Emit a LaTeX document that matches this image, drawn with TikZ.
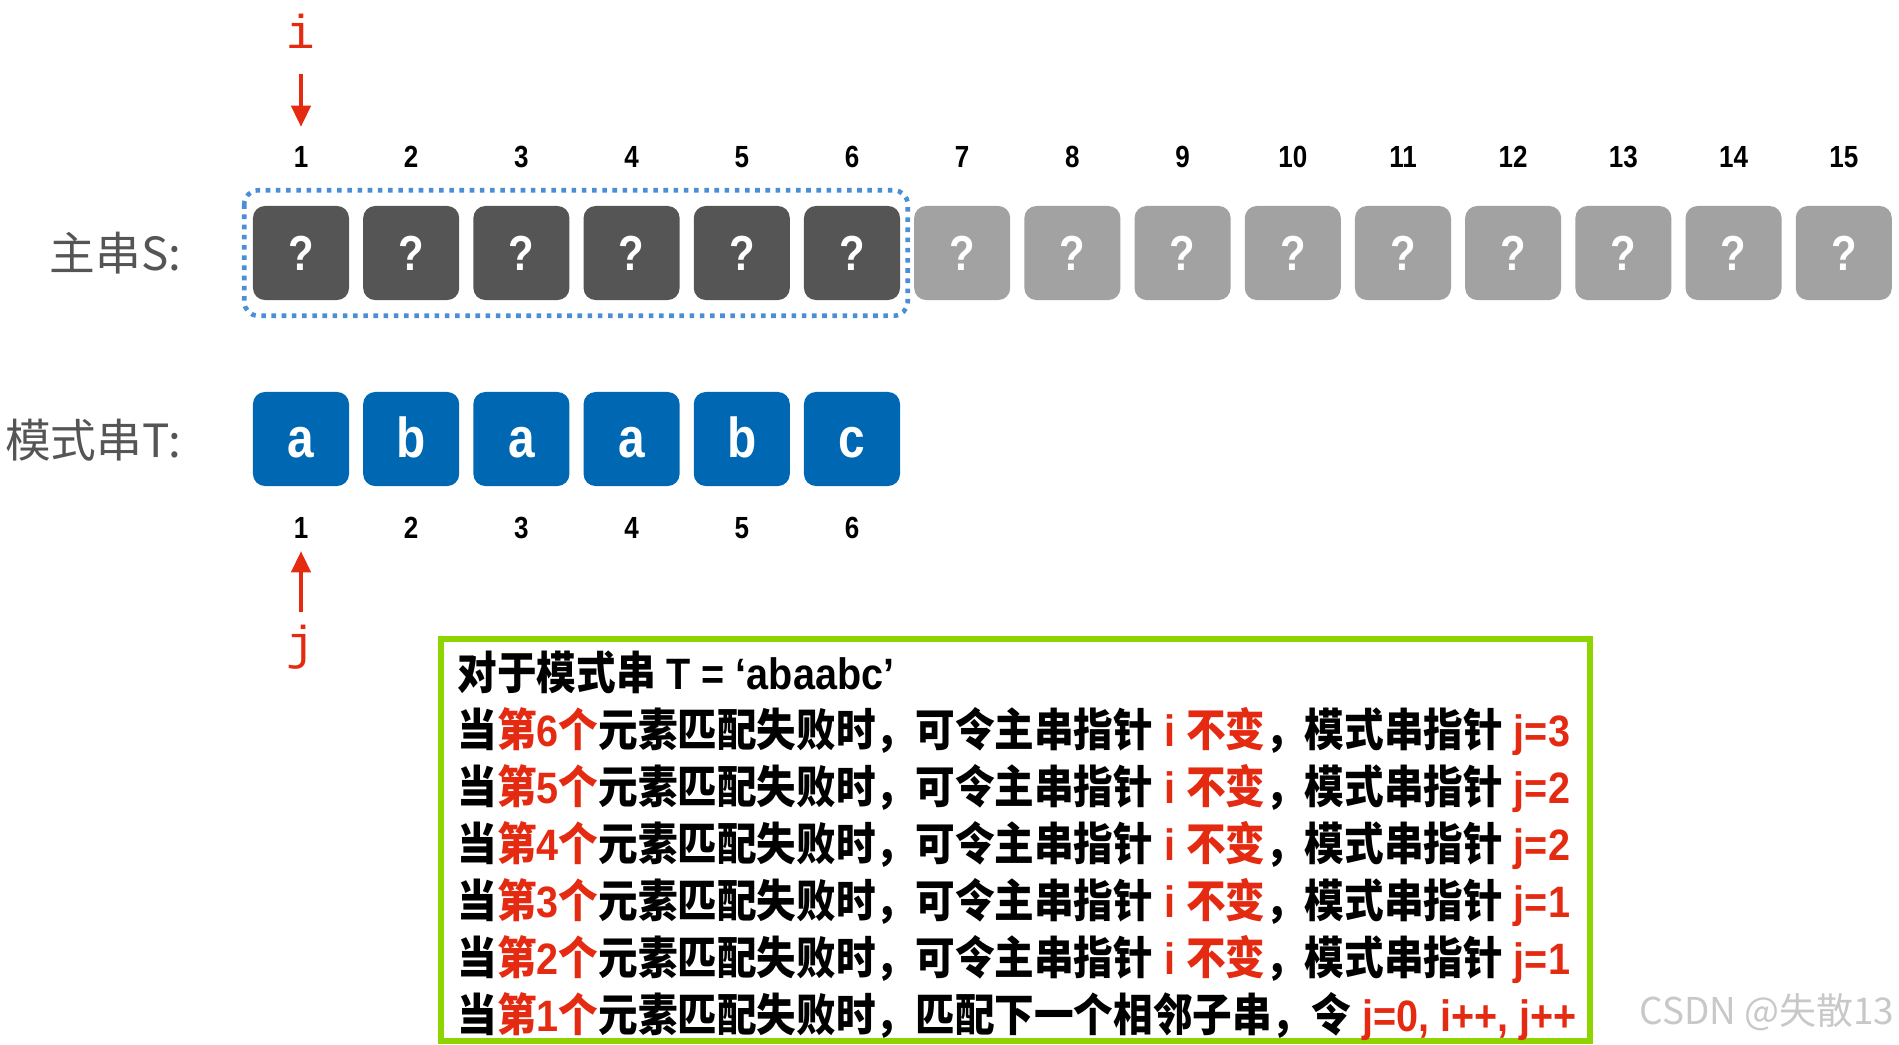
\documentclass[tikz,border=0pt]{standalone}
\usepackage{fontspec}
\setmainfont{Liberation Sans}
\newfontfamily\cjkfam{Noto Sans CJK SC}
\newfontfamily\cjkrule{Noto Sans CJK SC}[FakeStretch=0.88]
\newfontfamily\numfam{Liberation Sans}[FakeStretch=0.85]
\newfontfamily\latfam{Liberation Sans Bold}[FakeStretch=0.9]
\newfontfamily\ptrfam{Liberation Mono}
\usepackage{xcolor}
\usepackage{tikz}
\usetikzlibrary{calc}
\usetikzlibrary{arrows.meta}
\definecolor{GrisMatch}{HTML}{555555}
\definecolor{GrisResto}{HTML}{A2A2A2}
\definecolor{AzulPatron}{HTML}{0068B2}
\definecolor{AzulMarco}{HTML}{4A8FD6}
\definecolor{RojoPuntero}{HTML}{E52A12}
\definecolor{VerdeMarco}{HTML}{8ED500}
\definecolor{GrisMarca}{HTML}{C8C8C8}
\newcommand{\hl}[1]{\textcolor{RojoPuntero}{#1}}
\newcommand{\la}[1]{{\latfam\mdseries\fontsize{12.5}{13}\selectfont #1}}

\begin{document}
\begin{tikzpicture}[x=0.01cm, y=-0.01cm,
    cell/.style={rounded corners=0.12cm, minimum width=0.96cm, minimum height=0.94cm, inner sep=0pt, text=white},
    idx/.style={inner sep=0pt, font=\numfam\bfseries\fontsize{8.7}{9}\selectfont},
    pointer/.style={draw=RojoPuntero, line width=1pt, -{Triangle[length=6pt, width=5.5pt]}},
    ptrlab/.style={inner sep=0pt, text=RojoPuntero, font=\ptrfam\fontsize{13.5}{14}\selectfont},
    strlab/.style={inner sep=0pt, anchor=base east, text=GrisMatch, font=\cjkfam\fontsize{13}{13}\selectfont},
    rule/.style={inner sep=0pt, anchor=base west, font=\cjkrule\bfseries\fontsize{12.8}{13}\selectfont}]
  \useasboundingbox (0,0) rectangle (1899,1044);
  \def\pitch{110.2}

  % main string S
\begin{scope}
    \foreach \k in {1,...,15}{
      \pgfmathsetmacro{\cx}{301+\pitch*(\k-1)}
      \ifnum\k<7 \def\tono{GrisMatch}\else\def\tono{GrisResto}\fi
      \node[cell, fill=\tono, font=\numfam\bfseries\fontsize{14}{14}\selectfont] (s\k) at (\cx,253) {?};
      \node[idx] (top\k) at (\cx,157) {\k};
    }
    \draw[draw=AzulMarco, line width=1.3pt, dash pattern=on 1.3pt off 1.6pt, rounded corners=0.14cm]
      ($(s1.north west)+(-8,-15)$) rectangle ($(s6.south east)+(7,15)$);
\end{scope}

  % pattern string T
\begin{scope}
    \foreach \c [count=\k] in {a,b,a,a,b,c}{
      \pgfmathsetmacro{\cx}{301+\pitch*(\k-1)}
      \node[cell, fill=AzulPatron, text height=10.3pt, text depth=0pt, font=\numfam\bfseries\fontsize{16}{16}\selectfont] (t\k) at (\cx,439) {\c};
      \node[idx] (bot\k) at (\cx,528) {\k};
    }
\end{scope}

  % labels
  \node[strlab] (slab) at (182,270) {主串S:};
  \node[strlab] (tlab) at (182,457) {模式串T:};

  % pointers i and j
  \node[ptrlab, anchor=base] (ilab) at (301,48) {i};
  \draw[pointer, shorten <=0.25cm, shorten >=0.19cm] (ilab.south) -- (top1.north);
  \node[ptrlab, anchor=north] (jlab) at (301,624) {j};
  \draw[pointer, shorten <=0.12cm, shorten >=0.12cm] (jlab.north) -- (bot1.south);

  % next array
  \draw[draw=VerdeMarco, line width=1.6pt] (441,639) rectangle (1590,1041);
  \node[rule] (l0) at (457,689) {对于模式串\la{\ T = ‘abaabc’}};
  \foreach \k/\j [count=\r] in {6/3,5/2,4/2,3/1,2/1}
    \node[rule] (l\r) at (457,{689+57*\r}) {当\hl{第\la{\k}个}元素匹配失败时，可令主串指针\hl{\la{\ i\ }不变}，模式串指针\hl{\la{\ j=\j}}};
  \node[rule] (l6) at (457,1031) {当\hl{第\la{1}个}元素匹配失败时，匹配下一个相邻子串，令\hl{\la{\ j=0, i++, j++}}};

  \node[inner sep=0pt, anchor=base east, text=GrisMarca, font=\cjkfam\fontsize{10.5}{12}\selectfont] (marca) at (1895,1024) {CSDN @失散13};
\end{tikzpicture}
\end{document}
